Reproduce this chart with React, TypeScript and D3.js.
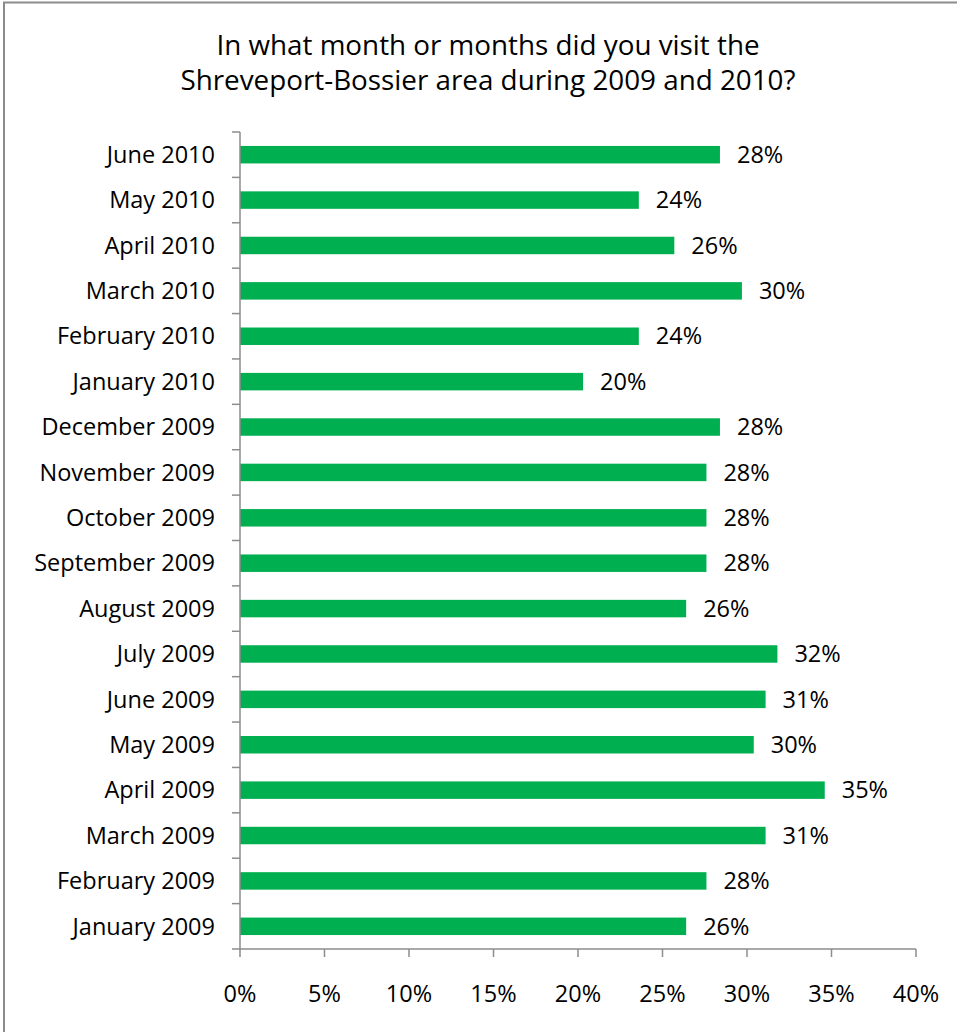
import React from "react";
import * as d3 from "d3";

const categories = [
  "June 2010", "May 2010", "April 2010", "March 2010", "February 2010", "January 2010",
  "December 2009", "November 2009", "October 2009", "September 2009", "August 2009",
  "July 2009", "June 2009", "May 2009", "April 2009", "March 2009", "February 2009", "January 2009",
];
const values = [28.4, 23.6, 25.7, 29.7, 23.6, 20.3, 28.4, 27.6, 27.6, 27.6, 26.4, 31.8, 31.1, 30.4, 34.6, 31.1, 27.6, 26.4];
const xTicks = [0, 5, 10, 15, 20, 25, 30, 35, 40];
const titleLines = ["In what month or months did you visit the", "Shreveport-Bossier area during 2009 and 2010?"];

const W = 957, H = 1032;
const FONT = "'Gill Sans MT', 'Gill Sans', 'Open Sans', sans-serif";
const FS = 23.5;

export default function App() {
  const x = d3.scaleLinear().domain([0, 40]).range([240, 916]);
  const y = d3.scaleBand<string>().domain(categories).range([132, 949]).paddingInner(0.615).paddingOuter(0.3075);
  const step = y.step();
  const axisColor = "#8c8c8c";
  const boundaries = d3.range(categories.length + 1).map((i) => 132 + i * step);
  return (
    <div style={{ position: "absolute", left: 0, top: 0 }}>
      <svg width={W} height={H} style={{ display: "block", background: "#fff" }} fontFamily={FONT}>
        <rect x={4} y={2.5} width={W + 10} height={H + 10} fill="none" stroke="#8c8c8c" strokeWidth={2} />
        <text x={488} y={55} textAnchor="middle" fontSize={27.8} fill="#000">
          {titleLines.map((t, i) => (
            <tspan key={i} x={488} dy={i === 0 ? 0 : 35}>{t}</tspan>
          ))}
        </text>
        {categories.map((c, i) => (
          <g key={c}>
            <rect x={x(0)} y={y(c)!} width={x(values[i]) - x(0)} height={y.bandwidth()} fill="#00b050" />
            <text x={x(values[i]) + 17} y={y(c)! + y.bandwidth() / 2} dy="0.35em" fontSize={FS} fill="#000">
              {d3.format(".0f")(values[i]) + "%"}
            </text>
            <text x={215} y={y(c)! + y.bandwidth() / 2} dy="0.35em" textAnchor="end" fontSize={FS} fill="#000">{c}</text>
          </g>
        ))}
        <line x1={x(0)} x2={x(0)} y1={132} y2={949} stroke={axisColor} strokeWidth={1.5} />
        {boundaries.map((b, i) => (
          <line key={i} x1={232} x2={x(0)} y1={b} y2={b} stroke={axisColor} strokeWidth={1.5} />
        ))}
        <line x1={x(0)} x2={x(40)} y1={949} y2={949} stroke={axisColor} strokeWidth={1.5} />
        {xTicks.map((t) => (
          <g key={t}>
            <line x1={x(t)} x2={x(t)} y1={949} y2={957} stroke={axisColor} strokeWidth={1.5} />
            <text x={x(t)} y={1001.5} textAnchor="middle" fontSize={FS} fill="#000">{t + "%"}</text>
          </g>
        ))}
      </svg>
    </div>
  );
}
